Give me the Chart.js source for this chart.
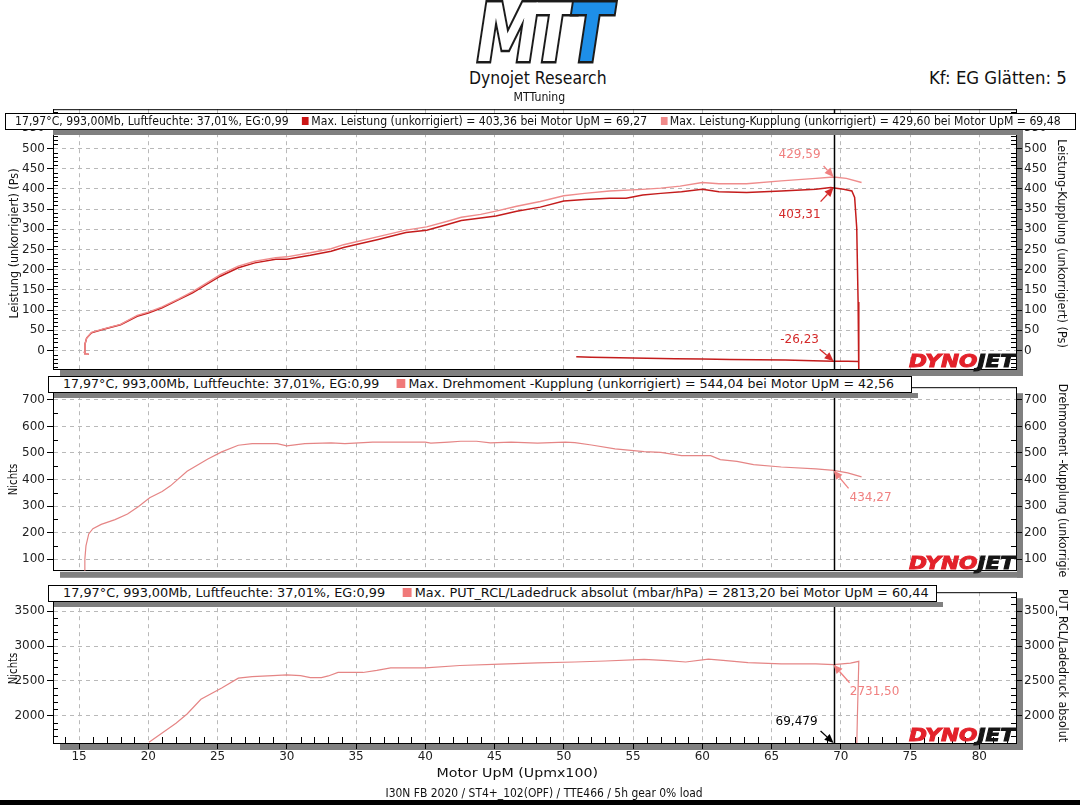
<!DOCTYPE html>
<html><head><meta charset="utf-8">
<script src="https://cdn.jsdelivr.net/npm/chart.js@4.4.0/dist/chart.umd.min.js"></script>
<style>
html,body{margin:0;padding:0;background:#fff;}
body{width:1080px;height:805px;position:relative;overflow:hidden;font-family:"DejaVu Sans",Verdana,sans-serif;}
canvas{position:absolute;left:0;z-index:1;}
.t{position:absolute;white-space:nowrap;line-height:1;transform-origin:50% 50%;z-index:4;}
.box{position:absolute;background:#fff;border:1px solid #000;box-sizing:border-box;z-index:3;overflow:visible;}
.lg{position:absolute;top:-1px;height:100%;display:flex;align-items:center;white-space:nowrap;transform-origin:0 50%;color:#111;line-height:1.2;}
.sq{display:inline-block;}
.band{position:absolute;background:#808080;z-index:2;}
#logo{position:absolute;white-space:nowrap;line-height:1;font-style:italic;font-weight:900;font-size:80px;letter-spacing:-9px;transform-origin:50% 50%;z-index:4;}
#logo span{-webkit-text-stroke:5px #1b1b1b;paint-order:stroke fill;}
</style></head><body>
<canvas id="c1" width="1080" height="280" style="top:100px"></canvas>
<canvas id="c2" width="1080" height="202" style="top:378px"></canvas>
<canvas id="c3" width="1080" height="185" style="top:583px"></canvas>
<div style="position:absolute;left:0;top:800px;width:1080px;height:5px;background:#000;z-index:5"></div>
<script>
// ---------------- DATA ----------------
const xTicks = [15,20,25,30,35,40,45,50,55,60,65,70,75,80];
const yTicksLeistung = [0,50,100,150,200,250,300,350,400,450,500,550];
const yTicksDrehmoment = [100,200,300,400,500,600,700];
const yTicksLadedruck = [2000,2500,3000,3500];
const cursorRpm = 69.479;

// Leistung (unkorrigiert) – rise, drop, then coast-down segment
const rpmLeistung = [15.7,15.45,15.4,15.42,15.55,15.9,16.7,18.0,19.2,20.0,21.0,22.2,23.2,24.2,25.2,26.5,27.7,29.2,30.0,31.7,33.2,34.1,35.1,36.6,38.6,40.1,41.6,42.6,44.0,45.1,46.6,48.3,50.0,51.5,53.3,54.5,55.7,57.0,58.5,60.0,61.2,63.2,65.7,68.2,69.27,70.2,70.8,71.0,71.15,71.25,71.3,71.3,71.3,
  71.3,70.5,69.48,68.0,66.0,64.0,62.0,60.0,58.0,56.0,54.0,52.0,50.9];
const leistung = [-9,-9,-5,15,31,44,52,64,85,93,106,126,143,164,184,205,217,226,226,236,246,255,263,275,292,298,312,322,328,333,345,355,370,374,377,377,385,389,393,399,393,391,395,399,403.36,399,395,379,304,120,-27,-60,null,
  -27,-26.5,-26.2,-25,-23.5,-23,-22,-21,-20,-19,-18,-16.5,-15.5];

// Leistung-Kupplung (unkorrigiert)
const rpmKupplung = [15.7,15.45,15.4,15.42,15.55,15.9,16.7,18.0,19.2,20.0,21.0,22.2,23.2,24.2,25.2,26.5,27.7,29.2,30.0,31.7,33.2,34.1,35.1,36.6,38.6,40.1,41.6,42.6,44.0,45.1,46.6,48.3,50.0,51.5,53.3,55.7,57.0,58.4,60.0,61.2,63.2,65.7,68.2,69.48,70.4,71.5];
const leistungKupplung = [-9,-9,-5,15,31,45,53,65,87,95,108,128,146,167,188,209,221,230,232,242,252,262,270,282,298,306,320,330,337,345,357,369,383,389,395,399,402,407,416,413,413,420,426,429.6,426,416];

// Drehmoment -Kupplung (unkorrigiert)
const rpmDrehmoment = [15.4,15.42,15.5,15.7,16.0,16.6,17.6,18.5,19.3,20.1,21.0,21.6,22.8,24.3,25.3,26.5,27.5,29.3,30.0,31.3,33.2,34.2,36.2,38.0,40.0,40.4,41.7,42.56,43.7,44.7,46.2,48.1,50.1,50.8,52.0,53.7,55.8,57.0,58.5,60.6,61.3,62.5,63.7,65.7,68.2,69.48,70.5,71.5];
const drehmoment = [52,100,150,195,215,231,249,270,298,331,355,376,431,477,504,529,535,535,527,535,538,535,541,541,541,537,541,544.04,544,538,541,537,541,539,530,515,505,502,490,490,475,468,456,447,440,434.27,425,410];

// PUT_RCL / Ladedruck absolut
const rpmLadedruck = [20.05,21.0,22.0,22.8,23.8,25.3,26.5,27.5,29.0,30.0,31.0,31.7,32.5,33.0,33.7,35.5,36.5,37.5,40.0,42.5,45.4,48.1,50.8,53.0,55.8,57.5,58.8,60.44,61.5,63.3,65.7,68.2,69.48,70.7,71.3,71.2,71.15];
const ladedruck = [1616,1750,1890,2023,2234,2398,2538,2560,2575,2585,2575,2546,2546,2570,2620,2620,2650,2685,2685,2720,2740,2757,2771,2785,2808,2790,2771,2813.2,2795,2762,2743,2743,2731.5,2754,2780,2000,1550];

const annoLeistung = [
  {v:429.59, label:'429,59', color:'#f08080', tail:[-10,-11], text:[-34,-22]},
  {v:403.31, label:'403,31', color:'#d42a2a', tail:[-13,14], text:[-34,27]},
  {v:-26.23, label:'-26,23', color:'#d42a2a', tail:[-14,-12], text:[-34,-21]}
];
const annoDrehmoment = [{v:434.27, label:'434,27', color:'#f08080', tail:[15,18], text:[37,27]}];
const annoLadedruck = [
  {v:2731.5, label:'2731,50', color:'#f08080', tail:[16,18], text:[41,27]},
  {v:null, label:'69,479', color:'#000', tail:[-13,-12], text:[-37,-21]}
];

// ---------------- HELPERS ----------------
const FONT = '"DejaVu Sans", Verdana, sans-serif';
const X_MIN = 13.12, X_MAX = 82.65;
const xy = (xs, ys) => xs.map((x,i)=>({x:x, y:ys[i]}));

function text(str, o){
  const d = document.createElement('div');
  d.className = 't'; d.textContent = str;
  d.style.fontSize = o.size + 'px';
  d.style.color = o.color || '#111';
  document.body.appendChild(d);
  const w = d.offsetWidth, h = d.offsetHeight;
  const sx = o.len / w;
  d.style.left = (o.cx - w/2) + 'px';
  d.style.top = (o.cy - h/2) + 'px';
  d.style.transform = (o.rot ? 'rotate(' + o.rot + 'deg) ' : '') + 'scaleX(' + sx + ')';
  return d;
}

function legend(o){
  const box = document.createElement('div');
  box.className = 'box';
  Object.assign(box.style, {left:o.left+'px', top:o.top+'px', width:o.width+'px', height:o.height+'px'});
  const inner = document.createElement('div');
  inner.className = 'lg';
  inner.style.fontSize = o.size + 'px';
  inner.style.left = (o.textLeft - o.left - 1) + 'px';
  o.parts.forEach(p => {
    const s = document.createElement('span');
    if (p.sq) { s.className = 'sq'; Object.assign(s.style, {width:p.s+'px', height:p.s+'px', background:p.sq, marginLeft:p.gap+'px', marginRight:'3px'}); }
    else s.textContent = p.t;
    inner.appendChild(s);
  });
  box.appendChild(inner);
  document.body.appendChild(box);
  const w = inner.offsetWidth;
  inner.style.transform = 'scaleX(' + ((o.textRight - o.textLeft) / w) + ')';
  if (o.band) {
    const b = document.createElement('div'); b.className = 'band';
    Object.assign(b.style, {left:o.band[0]+'px', top:(o.top+o.height)+'px', width:(o.band[1]-o.band[0])+'px', height:'5px'});
    document.body.appendChild(b);
  }
}

function xScale(show, h){
  return {
    type:'linear', min:X_MIN, max:X_MAX,
    afterBuildTicks: s => { s.ticks = xTicks.map(v=>({value:v})); },
    afterFit: s => { s.height = h; },
    ticks:{display:show, autoSkip:false, maxRotation:0, font:{family:FONT, size:12}, color:'#222', padding:1, callback:v=>String(v)},
    grid:{display:true, color:'#b9b9b9', lineWidth:1, drawTicks:show, tickLength:6, tickColor:'#000', tickWidth:1},
    border:{display:true, color:'#000', width:1, dash:[4,4]}
  };
}
function yScale(pos, min, max, tickArr, width, onArea){
  return {
    type:'linear', position:pos, min:min, max:max,
    afterBuildTicks: s => { s.ticks = tickArr.map(v=>({value:v})); },
    afterFit: s => { s.width = width; },
    ticks:{autoSkip:false, font:{family:FONT, size:12}, color:'#222', padding:2, callback:v=>String(v)},
    grid:{display:true, drawOnChartArea:onArea, color:'#b9b9b9', lineWidth:1, drawTicks:true, tickLength:6, tickColor:'#000', tickWidth:1},
    border:{display:true, color:'#000', width:1, dash:[4,4]}
  };
}

function line(ctx, x1, y1, x2, y2){ ctx.beginPath(); ctx.moveTo(x1,y1); ctx.lineTo(x2,y2); ctx.stroke(); }

function deco(spec){
  return {
    id:'deco',
    beforeDraw(chart){
      const {ctx, chartArea:a} = chart;
      ctx.save(); ctx.fillStyle = '#808080';
      ctx.fillRect(a.left+7, a.bottom+1, a.right-a.left, 6);
      ctx.fillRect(a.right+1, a.top+6, 6, a.bottom-a.top+1);
      ctx.restore();
    },
    afterDraw(chart){
      const {ctx, chartArea:a, scales} = chart;
      const ys = scales.y, xs = scales.x;
      ctx.save();
      ctx.strokeStyle = '#000'; ctx.lineWidth = 1;
      line(ctx, a.left, a.top+0.5, a.right+1, a.top+0.5);
      for (let v = Math.ceil(ys.min/spec.minor)*spec.minor; v <= ys.max; v += spec.minor) {
        if (Math.abs(v % spec.major) < 1e-6) continue;
        const py = Math.round(ys.getPixelForValue(v)) + 0.5;
        line(ctx, a.left, py, a.left+5, py);
        line(ctx, a.right-5, py, a.right, py);
      }
      if (spec.xMinor) {
        for (let v = Math.ceil(xs.min); v <= xs.max; v += 1) {
          if (v % 5 === 0) continue;
          const px = Math.round(xs.getPixelForValue(v)) + 0.5;
          line(ctx, px, a.bottom, px, a.bottom-6);
        }
      }
      const cx = Math.round(xs.getPixelForValue(cursorRpm)) + 0.5;
      ctx.lineWidth = 1.5;
      line(ctx, cx, a.top, cx, a.bottom);
      ctx.font = '12px ' + FONT; ctx.textAlign = 'center'; ctx.textBaseline = 'middle';
      spec.anno.forEach(an => {
        const px = xs.getPixelForValue(cursorRpm);
        const py = an.v === null ? a.bottom : ys.getPixelForValue(an.v);
        const tx = px + an.tail[0], ty = py + an.tail[1];
        const ang = Math.atan2(py-ty, px-tx);
        const hl = 9, hw = 4;
        const bx = px - hl*Math.cos(ang), by = py - hl*Math.sin(ang);
        ctx.strokeStyle = an.color; ctx.fillStyle = an.color; ctx.lineWidth = 1.3;
        line(ctx, tx, ty, bx, by);
        ctx.beginPath(); ctx.moveTo(px, py);
        ctx.lineTo(bx + hw*Math.sin(ang), by - hw*Math.cos(ang));
        ctx.lineTo(bx - hw*Math.sin(ang), by + hw*Math.cos(ang));
        ctx.closePath(); ctx.fill();
        ctx.fillText(an.label, px + an.text[0], py + an.text[1]);
      });
      ctx.font = 'italic bold 18px ' + FONT; ctx.textAlign = 'left'; ctx.textBaseline = 'alphabetic';
      const w1 = ctx.measureText('DYNO').width, w2 = ctx.measureText('JET').width;
      const target = 106, s = target / (w1 + w2);
      ctx.translate(a.right - 1 - target, a.bottom - 2);
      ctx.scale(s, 1);
      ctx.fillStyle = '#e3222b'; ctx.strokeStyle = '#e3222b'; ctx.lineWidth = 1;
      ctx.fillText('DYNO', 0, 0); ctx.strokeText('DYNO', 0, 0);
      ctx.fillStyle = '#151515'; ctx.strokeStyle = '#151515';
      ctx.fillText('JET', w1, 0); ctx.strokeText('JET', w1, 0);
      ctx.restore();
    }
  };
}

function ds(xs, ys, color, width){
  return {data: xy(xs, ys), showLine:true, borderColor:color, backgroundColor:color, borderWidth:width, pointRadius:0, tension:0, spanGaps:false, yAxisID:'y'};
}

function chart(id, datasets, x, yL, yR, pad, spec){
  return new Chart(document.getElementById(id), {
    type:'scatter',
    data:{datasets:datasets},
    options:{
      responsive:false, animation:false, devicePixelRatio:1,
      layout:{padding:{top:pad[0], bottom:pad[1], left:0, right:0}},
      plugins:{legend:{display:false}, tooltip:{enabled:false}},
      scales:{x:x, y:yL, y2:yR}
    },
    plugins:[deco(spec)]
  });
}

// ---------------- CHARTS ----------------
chart('c1',
  [ds(rpmKupplung, leistungKupplung, '#ef8c8c', 1.4), ds(rpmLeistung, leistung, '#c41c1c', 1.5)],
  xScale(false, 0),
  yScale('left', -45.6, 597.3, yTicksLeistung, 53, true),
  yScale('right', -45.6, 597.3, yTicksLeistung, 64, false),
  [8, 11], {minor:10, major:50, xMinor:false, anno:annoLeistung});

chart('c2',
  [ds(rpmDrehmoment, drehmoment, '#e58585', 1.2)],
  xScale(false, 0),
  yScale('left', 56.1, 747.6, yTicksDrehmoment, 53, true),
  yScale('right', 56.1, 747.6, yTicksDrehmoment, 64, false),
  [6, 7], {minor:50, major:100, xMinor:false, anno:annoDrehmoment});

chart('c3',
  [ds(rpmLadedruck, ladedruck, '#e58585', 1.2)],
  xScale(true, 25),
  yScale('left', 1605.6, 3774.6, yTicksLadedruck, 53, true),
  yScale('right', 1605.6, 3774.6, yTicksLadedruck, 64, false),
  [6, 0], {minor:100, major:500, xMinor:true, anno:annoLadedruck});

// ---------------- TEXT / LEGENDS ----------------
const env = '17,97°C, 993,00Mb, Luftfeuchte: 37,01%, EG:0,99';
legend({left:5, top:113, width:1071, height:17, size:13, textLeft:15, textRight:1061, band:[53,1023],
  parts:[{t:env},{sq:'#cc1616', s:8, gap:16},{t:'Max. Leistung (unkorrigiert) = 403,36 bei Motor UpM = 69,27'},
         {sq:'#f08a8a', s:8, gap:16},{t:'Max. Leistung-Kupplung (unkorrigiert) = 429,60 bei Motor UpM = 69,48'}]});
legend({left:48, top:376, width:864, height:17, size:13, textLeft:63, textRight:894, band:[54,918],
  parts:[{t:env},{sq:'#f07a7a', s:9, gap:18},{t:'Max. Drehmoment -Kupplung (unkorrigiert) = 544,04 bei Motor UpM = 42,56'}]});
legend({left:48, top:585, width:889, height:17, size:13, textLeft:63, textRight:929, band:[54,943],
  parts:[{t:env},{sq:'#f07a7a', s:9, gap:18},{t:'Max. PUT_RCL/Ladedruck absolut (mbar/hPa)  = 2813,20 bei Motor UpM = 60,44'}]});

text('Dynojet Research', {cx:538, cy:78, len:138, size:17});
text('MTTuning', {cx:539, cy:97, len:52, size:12});
text('Kf: EG Glätten: 5', {cx:998, cy:78, len:138, size:17});

text('Leistung (unkorrigiert) (Ps)', {cx:13, cy:243, len:150, size:13, rot:-90});
text('Leistung-Kupplung (unkorrigiert) (Ps)', {cx:1063, cy:243, len:209, size:13, rot:90});
text('Nichts', {cx:12, cy:479, len:32, size:13, rot:-90});
text('Drehmoment -Kupplung (unkorrigie', {cx:1063, cy:480, len:193, size:13, rot:90});
text('Nichts', {cx:12, cy:668, len:32, size:13, rot:-90});
text('PUT_RCL/Ladedruck absolut', {cx:1063, cy:665, len:153, size:13, rot:90});

text('Motor UpM (Upmx100)', {cx:517, cy:773, len:162, size:12});
text('I30N FB 2020 / ST4+_102(OPF) / TTE466 / 5h gear 0%  load', {cx:544, cy:793, len:317, size:12});

const logo = document.createElement('div');
logo.id = 'logo';
logo.innerHTML = '<span style="color:#ffffff">MT</span><span style="color:#1e8fe8">T</span>';
document.body.appendChild(logo);
const lw = logo.offsetWidth, lh = logo.offsetHeight;
logo.style.left = (541 - lw/2) + 'px';
logo.style.top = (34 - lh/2) + 'px';
logo.style.transform = 'scale(' + (128/lw) + ',1)';
</script>
</body></html>
